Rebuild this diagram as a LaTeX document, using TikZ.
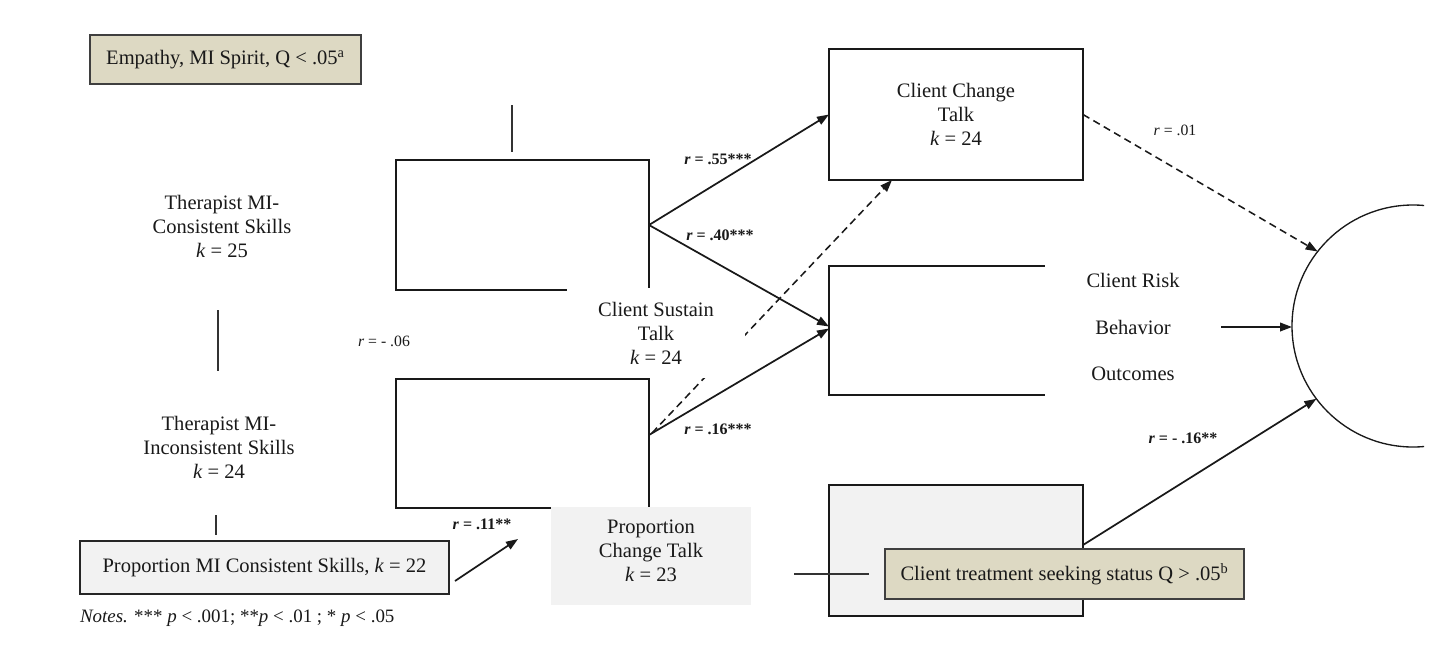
\documentclass[tikz,border=0pt]{standalone}
\usepackage{fontspec}
\setmainfont{Liberation Serif}
\usetikzlibrary{arrows.meta,calc}
\definecolor{tanfill}{HTML}{DDD9C3}
\definecolor{lgray}{HTML}{F2F2F2}
\definecolor{edgegray}{HTML}{3F3F3F}
\pgfdeclarelayer{back}
\pgfdeclarelayer{paper}
\pgfsetlayers{paper,back,main}
\begin{document}
\begin{tikzpicture}[x=0.75pt,y=-0.75pt,
  every node/.style={font=\fontsize{15.4}{18}\selectfont, text=black!90, inner sep=0pt, outer sep=0pt},
  tanbox/.style={draw=edgegray, line width=1.2pt, fill=tanfill},
  openbox/.style={draw=black!90, line width=1.2pt},
  grayfill/.style={fill=lgray},
  cover/.style={fill=white},
  txt/.style={align=center},
  lbl/.style={font=\fontsize{11.8}{13}\selectfont},
  blbl/.style={font=\fontsize{12}{14}\selectfont\bfseries},
  conn/.style={line width=1.3pt, draw=black!90},
  arr/.style={conn, -{Triangle[length=9pt,width=6.5pt]}},
  darr/.style={arr, dash pattern=on 5.5pt off 3.5pt, line width=1.15pt},
  tick/.style={line width=1pt, draw=black!80}]

\begin{pgfonlayer}{paper}
\fill[white] (0,0) rectangle (1442,662);
\end{pgfonlayer}
\useasboundingbox (0,0) rectangle (1442,662);

% moderator box
\node[tanbox, minimum width=203.25pt, minimum height=36.75pt] (emp) at (225.5,59.5) {Empathy, MI Spirit, Q < .05\textsuperscript{a}};

% therapist labels
\node[txt] (tcs) at (222,226) {Therapist MI-\\Consistent Skills\\\textit{k} = 25};
\node[txt] (tis) at (219,447) {Therapist MI-\\Inconsistent Skills\\\textit{k} = 24};

% short vertical strokes
\coordinate (v1a) at (512,105); \coordinate (v1b) at (512,152);
\coordinate (v2a) at (218,310); \coordinate (v2b) at (218,371);
\coordinate (v3a) at (216,515); \coordinate (v3b) at (216,535);
\draw[tick] (v1a) -- (v1b);
\draw[tick] (v2a) -- (v2b);
\draw[tick] (v3a) -- (v3b);

% left boxes and covering labels
\node[openbox, minimum width=189.75pt, minimum height=97.5pt] (b1) at (522.5,225) {};
\node[cover, txt, minimum width=133.5pt, minimum height=67.5pt] (cst) at (656,333) {Client Sustain\\Talk\\\textit{k} = 24};
\node[openbox, minimum width=189.75pt, minimum height=96.75pt] (b2) at (522.5,443.5) {};
\node[grayfill, minimum width=150pt, minimum height=73.5pt] (pct) at (651,556) {};
\node[txt] (pctt) at (651,551) {Proportion\\Change Talk\\\textit{k} = 23};

% right boxes
\node[openbox, txt, minimum width=190.5pt, minimum height=98.25pt] (cct) at (956,114.5) {Client Change\\Talk\\\textit{k} = 24};
\node[openbox, minimum width=190.5pt, minimum height=96.75pt] (crb) at (956,330.5) {};
\node[cover, txt, font=\fontsize{15.4}{35}\selectfont, minimum width=132pt, minimum height=112.5pt] (crt) at (1133,327) {Client Risk\\Behavior\\Outcomes};

% outcome circle, cut at the right edge
\begin{scope}
\clip (0,0) rectangle (1424,662);
\node[circle, draw=black!90, line width=1pt, minimum size=181.5pt] (out) at (1413,326) {};
\end{scope}

% bottom left
\node[draw=black!85, line width=1.2pt, fill=lgray, minimum width=276.75pt, minimum height=39.75pt] (pmi) at (264.5,567.5) {Proportion MI Consistent Skills, \textit{k} = 22};
\node[anchor=west, font=\fontsize{14.2}{16}\selectfont] (notes) at (80,618) {\textit{Notes.} *** \textit{p} < .001; **\textit{p} < .01 ; * \textit{p} < .05};

% bottom right
\node[openbox, fill=lgray, minimum width=190.5pt, minimum height=98.25pt] (tsb) at (956,550.5) {};
\coordinate (h1) at (794,574); \coordinate (h2) at (869,574);
\draw[tick] (h1) -- (h2);
\node[tanbox, minimum width=269.25pt, minimum height=37.5pt] (tts) at (1064.5,574) {Client treatment seeking status Q > .05\textsuperscript{b}};

% connectors
\begin{pgfonlayer}{back}
\draw[darr] ($(b2.north east)+(3,54)$) -- ($(cct.south)+(-64,0)$);
\end{pgfonlayer}
\draw[arr] (b1.east) -- ($(crb.west)+(0,-4)$);
\draw[arr] (b1.east) -- (cct.west);
\draw[arr] ($(b2.north east)+(0,56)$) -- ($(crb.west)+(0,-2)$);
\draw[darr] (cct.east) -- (out.142);
\draw[arr] (crt.east) -- (crt.east -| out.west);
\draw[arr] ($(tsb.north east)+(0,60)$) -- (out.-143);
\coordinate (a11s) at (455,581); \coordinate (a11e) at (518,539);
\draw[arr] (a11s) -- (a11e);

% labels
\node[blbl] (l55) at (718,159) {\textit{r} = .55***};
\node[blbl] (l40) at (720,235) {\textit{r} = .40***};
\node[blbl] (l16) at (718,429) {\textit{r} = .16***};
\node[blbl] (l11) at (482,524) {\textit{r} = .11**};
\node[blbl] (lm16) at (1183,438) {\textit{r} = - .16**};
\node[lbl] (l06) at (384,341) {\textit{r} = - .06};
\node[lbl] (l01) at (1175,130) {\textit{r} = .01};
\end{tikzpicture}
\end{document}
